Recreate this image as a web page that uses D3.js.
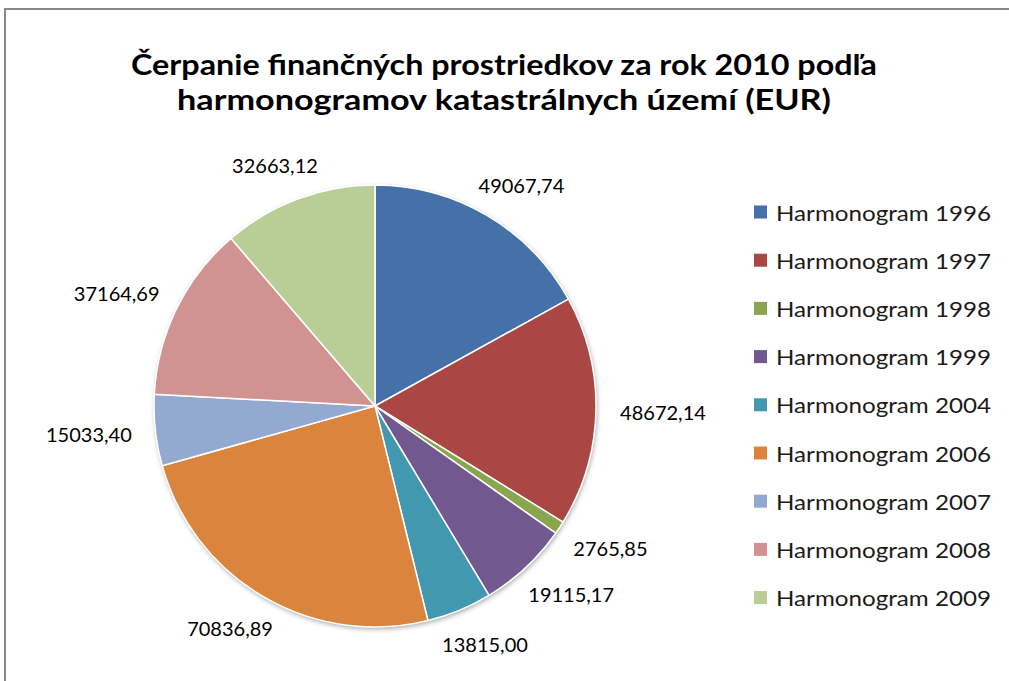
<!DOCTYPE html>
<html lang="sk">
<head>
    <meta charset="UTF-8">
    <title>Čerpanie finančných prostriedkov</title>
    <script src="https://d3js.org/d3.v7.min.js"></script>
    <style>
        body { margin: 0; background: #fff; }
    </style>
</head>
<body>
<svg id="chart"></svg>

<script>
    // data
    var categories = ["Harmonogram 1996", "Harmonogram 1997", "Harmonogram 1998", "Harmonogram 1999",
        "Harmonogram 2004", "Harmonogram 2006", "Harmonogram 2007", "Harmonogram 2008", "Harmonogram 2009"];
    var values = [49067.74, 48672.14, 2765.85, 19115.17, 13815.00, 70836.89, 15033.40, 37164.69, 32663.12];
    var colors = ["#4571a8", "#aa4643", "#89a54e", "#71588f", "#4198af", "#db843d", "#93a9cf", "#d19392", "#b9cd96"];
    var titleLines = ["Čerpanie finančných prostriedkov za rok 2010 podľa",
        "harmonogramov katastrálnych území (EUR)"];

    (function() {
        var width = 1009;
        var height = 681;

        var svg = d3.select("#chart")
            .attr("width", width)
            .attr("height", height);

        // chart frame (runs off the right and bottom edge)
        svg.append("rect")
            .attr("x", 5).attr("y", 9)
            .attr("width", 1030).attr("height", 700)
            .attr("fill", "#fff")
            .attr("stroke", "#888")
            .attr("stroke-width", 2);

        // title: one text, two tspans
        svg.append("text")
            .attr("text-anchor", "middle")
            .attr("font-family", "Lato, sans-serif")
            .attr("font-weight", "bold")
            .attr("font-size", 29)
            .attr("fill", "#000")
            .selectAll("tspan")
            .data(titleLines)
            .join("tspan")
            .attr("x", 504)
            .attr("y", function(d, i) { return 75 + i * 35; })
            .attr("textLength", function(d, i) { return i === 0 ? 746 : 654; })
            .attr("lengthAdjust", "spacingAndGlyphs")
            .text(function(d) { return d; });

        // pie
        var cx = 375, cy = 406, r = 221;

        var defs = svg.append("defs");
        var shadow = defs.append("filter").attr("id", "shadow")
            .attr("x", "-10%").attr("y", "-10%").attr("width", "120%").attr("height", "120%");
        shadow.append("feDropShadow")
            .attr("dx", 1).attr("dy", 2)
            .attr("stdDeviation", 2.5)
            .attr("flood-color", "#000")
            .attr("flood-opacity", 0.35);

        var pie = d3.pie().sort(null).value(function(d) { return d; });
        var arcs = pie(values);
        var arc = d3.arc().innerRadius(0).outerRadius(r);

        var g = svg.append("g").attr("transform", "translate(" + cx + "," + cy + ")");

        g.append("circle").attr("r", r).attr("fill", "#fff").attr("filter", "url(#shadow)");

        g.selectAll("path")
            .data(arcs)
            .join("path")
            .attr("d", arc)
            .attr("fill", function(d, i) { return colors[i]; })
            .attr("stroke", "#fff")
            .attr("stroke-width", 1.5)
            .attr("stroke-linejoin", "round");

        // value labels outside the slices, decimal comma
        var sk = d3.formatLocale({decimal: ",", thousands: " ", grouping: [3], currency: ["", " €"]});
        var fmt = sk.format(".2f");

        var labelR = r + 24;
        var labels = g.append("g").selectAll("text")
            .data(arcs)
            .join("text")
            .attr("font-family", "Lato, sans-serif")
            .attr("font-size", 20)
            .attr("fill", "#000")
            .attr("text-anchor", "middle")
            .attr("dominant-baseline", "central")
            .text(function(d) { return fmt(d.value); });

        labels.each(function(d) {
            var box = this.getBBox();
            var a = (d.startAngle + d.endAngle) / 2;
            var sx = Math.sin(a), sy = -Math.cos(a);
            var x = labelR * sx + box.width / 2 * sx;
            var y = labelR * sy + box.height / 2 * sy;
            d3.select(this).attr("x", x).attr("y", y);
        });

        // legend
        var legend = svg.append("g").attr("transform", "translate(754,212)");
        var rows = legend.selectAll("g")
            .data(categories)
            .join("g")
            .attr("transform", function(d, i) { return "translate(0," + (i * 48.2) + ")"; });

        rows.append("rect")
            .attr("x", 0).attr("y", -6.5)
            .attr("width", 13).attr("height", 13)
            .attr("fill", function(d, i) { return colors[i]; });

        rows.append("text")
            .attr("x", 22)
            .attr("y", 0)
            .attr("dominant-baseline", "central")
            .attr("font-family", "Lato, sans-serif")
            .attr("font-size", 22)
            .attr("textLength", 215)
            .attr("lengthAdjust", "spacingAndGlyphs")
            .attr("fill", "#1a1a1a")
            .text(function(d) { return d; });
    })();
</script>
</body>
</html>
